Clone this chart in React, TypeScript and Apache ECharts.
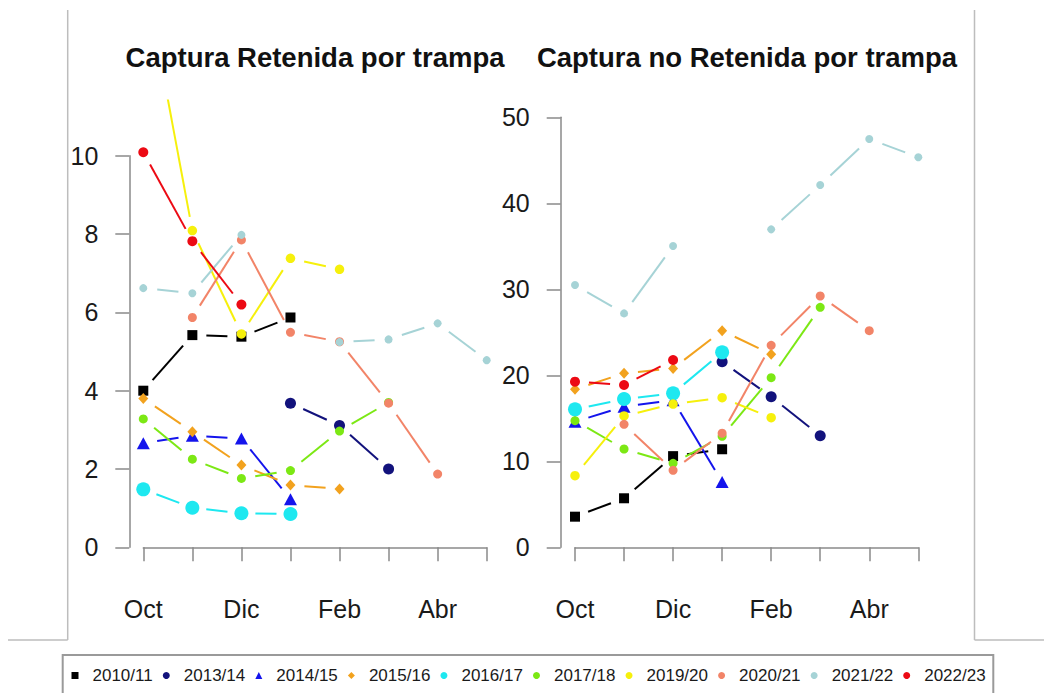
import React, { useEffect, useRef } from "react";
import * as echarts from "echarts";

const N = null;

// Categories (months of the season) and tick labels
const months = ["Oct", "Nov", "Dic", "Ene", "Feb", "Mar", "Abr", "May"];
const seasons = ["2010/11", "2013/14", "2014/15", "2015/16", "2016/17", "2017/18", "2019/20", "2020/21", "2021/22", "2022/23"];
const panelTitles = ["Captura Retenida por trampa", "Captura no Retenida por trampa"];
const leftTicks = { min: 0, max: 10, interval: 2 };
const rightTicks = { min: 0, max: 50, interval: 10 };

// Captura Retenida por trampa
const ret_2010_11 = [4.0, 5.42, 5.38, 5.87, N, N, N, N];
const ret_2013_14 = [N, N, N, 3.68, 3.11, 2.0, N, N];
const ret_2014_15 = [2.66, 2.85, 2.78, 1.23, N, N, N, N];
const ret_2015_16 = [3.8, 2.95, 2.1, 1.59, 1.49, N, N, N];
const ret_2016_17 = [1.48, 1.01, 0.87, 0.85, N, N, N, N];
const ret_2017_18 = [3.28, 2.25, 1.76, 1.96, 2.97, 3.7, N, N];
const ret_2019_20 = [14.8, 8.09, 5.45, 7.38, 7.1, N, N, N];
const ret_2020_21 = [N, 5.87, 7.85, 5.49, 5.25, 3.68, 1.87, N];
const ret_2021_22 = [6.62, 6.49, 7.98, N, 5.24, 5.31, 5.72, 4.78];
const ret_2022_23 = [10.09, 7.82, 6.2, N, N, N, N, N];

// Captura no Retenida por trampa
const noret_2010_11 = [3.56, 5.7, 10.6, 11.4, N, N, N, N];
const noret_2013_14 = [N, N, N, 21.58, 17.5, 12.98, N, N];
const noret_2014_15 = [14.6, 16.35, 17.1, 7.6, N, N, N, N];
const noret_2015_16 = [18.37, 20.23, 20.8, 25.19, 22.45, N, N, N];
const noret_2016_17 = [16.04, 17.24, 17.9, 22.67, N, N, N, N];
const noret_2017_18 = [14.72, 11.43, 9.76, 12.9, 19.72, 27.9, N, N];
const noret_2019_20 = [8.33, 15.27, 16.66, 17.4, 15.07, N, N, N];
const noret_2020_21 = [N, 14.3, 8.95, 13.26, 23.49, 29.22, 25.19, N];
const noret_2021_22 = [30.5, 27.2, 35.03, N, 36.97, 42.13, 47.48, 45.35];
const noret_2022_23 = [19.26, 18.87, 21.78, N, N, N, N, N];

const retenida = [ret_2010_11, ret_2013_14, ret_2014_15, ret_2015_16, ret_2016_17, ret_2017_18, ret_2019_20, ret_2020_21, ret_2021_22, ret_2022_23];
const noRetenida = [noret_2010_11, noret_2013_14, noret_2014_15, noret_2015_16, noret_2016_17, noret_2017_18, noret_2019_20, noret_2020_21, noret_2021_22, noret_2022_23];

// Styles
const seasonStyle = [
  { color: "#000000", symbol: "rect", size: 10, icon: "rect" },
  { color: "#12127c", symbol: "circle", size: 11, icon: "circle" },
  { color: "#1414ec", symbol: "triangle", size: [13, 12], icon: "triangle" },
  { color: "#f2a21e", symbol: "diamond", size: [10, 11], icon: "diamond" },
  { color: "#1ee8f0", symbol: "circle", size: 14, icon: "circle" },
  { color: "#7ce814", symbol: "circle", size: 9, icon: "circle" },
  { color: "#f6f00c", symbol: "circle", size: 9.5, icon: "circle" },
  { color: "#f28468", symbol: "circle", size: 9, icon: "circle" },
  { color: "#a6d3d6", symbol: "circle", size: 8, icon: "circle" },
  { color: "#ec0a14", symbol: "circle", size: 10, icon: "circle" },
];

const FONT = "'Liberation Sans', Arial, Helvetica, sans-serif";
const AXIS_COLOR = "#8a8a8a";
const TEXT_COLOR = "#1a1a1a";
const GAP = 14;

function segments(vals: (number | null)[]) {
  const out: number[][] = [];
  for (let i = 0; i < vals.length - 1; i++) {
    const a = vals[i];
    const b = vals[i + 1];
    if (a != null && b != null) out.push([i, a, i + 1, b]);
  }
  return out;
}

function points(vals: (number | null)[]) {
  const out: number[][] = [];
  vals.forEach((v, i) => {
    if (v != null) out.push([i, v]);
  });
  return out;
}

function panelSeries(panel: (number | null)[][], axisIndex: number) {
  const out: any[] = [];
  panel.forEach((vals, i) => {
    const st = seasonStyle[i];
    out.push({
      type: "scatter",
      name: seasons[i],
      xAxisIndex: axisIndex,
      yAxisIndex: axisIndex,
      clip: true,
      silent: true,
      z: 2,
      data: points(vals),
      symbol: st.symbol,
      symbolSize: st.size,
      itemStyle: { color: st.color, borderWidth: 0, opacity: 1 },
      emphasis: { disabled: true },
    });
    out.push({
      type: "custom",
      name: seasons[i],
      xAxisIndex: axisIndex,
      yAxisIndex: axisIndex,
      clip: true,
      silent: true,
      z: 2,
      itemStyle: { color: st.color },
      encode: { x: [0, 2], y: [1, 3] },
      data: segments(vals),
      renderItem: (params: any, api: any) => {
        const a = api.coord([api.value(0), api.value(1)]);
        const b = api.coord([api.value(2), api.value(3)]);
        const dx = b[0] - a[0];
        const dy = b[1] - a[1];
        const len = Math.sqrt(dx * dx + dy * dy);
        if (len <= 2 * GAP) return null;
        const ux = dx / len;
        const uy = dy / len;
        return {
          type: "line",
          shape: { x1: a[0] + ux * GAP, y1: a[1] + uy * GAP, x2: b[0] - ux * GAP, y2: b[1] - uy * GAP },
          style: { stroke: st.color, lineWidth: 2, fill: null },
        };
      },
    });
  });
  return out;
}

const L_ZERO = 547.3;
const L_PPU = 39.15;
const R_PPU = 8.6;
const PLOT_TOP = 99.4;
const PLOT_BOTTOM = 565;

export default function App() {
  const ref = useRef<HTMLDivElement>(null);
  useEffect(() => {
    if (!ref.current) return;
    const chart = echarts.init(ref.current, null, { renderer: "svg" });

    const dataX = (grid: number) => ({
      type: "category",
      data: months,
      boundaryGap: false,
      gridIndex: grid,
      axisLine: { show: true, lineStyle: { color: AXIS_COLOR, width: 1.5 } },
      axisTick: { show: true, interval: 0, length: 14, lineStyle: { color: AXIS_COLOR, width: 1.5 } },
      axisLabel: { interval: 1, margin: 31, fontSize: 25, fontFamily: FONT, color: TEXT_COLOR },
      splitLine: { show: false },
    });

    const tickY = (grid: number, t: { min: number; max: number; interval: number }) => ({
      type: "value",
      gridIndex: grid,
      min: t.min,
      max: t.max,
      interval: t.interval,
      axisLine: { show: true, lineStyle: { color: AXIS_COLOR, width: 1.5 } },
      axisTick: { show: true, length: 14, lineStyle: { color: AXIS_COLOR, width: 1.5 } },
      axisLabel: { margin: 31, fontSize: 25, fontFamily: FONT, color: TEXT_COLOR },
      splitLine: { show: false },
    });

    const leftMin = (L_ZERO - PLOT_BOTTOM) / L_PPU;
    const leftMax = (L_ZERO - PLOT_TOP) / L_PPU;
    const rightMin = (L_ZERO - PLOT_BOTTOM) / R_PPU;
    const rightMax = (L_ZERO - PLOT_TOP) / R_PPU;

    const option: any = {
      animation: false,
      backgroundColor: "#ffffff",
      grid: [
        { left: 143.3, top: PLOT_TOP, width: 343.4, height: PLOT_BOTTOM - PLOT_TOP },
        { left: 129.3, top: L_ZERO - 10 * L_PPU, width: 1, height: 10 * L_PPU },
        { left: 575, top: PLOT_TOP, width: 343.3, height: PLOT_BOTTOM - PLOT_TOP },
        { left: 560.7, top: L_ZERO - 50 * R_PPU, width: 1, height: 50 * R_PPU },
      ],
      xAxis: [
        dataX(0),
        { type: "value", gridIndex: 1, show: false },
        dataX(2),
        { type: "value", gridIndex: 3, show: false },
      ],
      yAxis: [
        { type: "value", gridIndex: 0, min: leftMin, max: leftMax, show: false },
        tickY(1, leftTicks),
        { type: "value", gridIndex: 2, min: rightMin, max: rightMax, show: false },
        tickY(3, rightTicks),
      ],
      legend: {
        left: 71.5,
        top: 667,
        padding: 0,
        orient: "horizontal",
        itemWidth: 7,
        itemHeight: 7,
        itemGap: 10.1,
        selectedMode: false,
        textStyle: { fontSize: 17, fontFamily: FONT, color: TEXT_COLOR, padding: [0, 0, 0, 9] },
        data: seasons.map((s, i) => ({ name: s, icon: seasonStyle[i].icon, itemStyle: { color: seasonStyle[i].color } })),
      },
      graphic: [
        { type: "line", shape: { x1: 67.7, y1: 10, x2: 67.7, y2: 640 }, style: { stroke: "#bdbdbd", lineWidth: 1.5 }, silent: true },
        { type: "line", shape: { x1: 8, y1: 640, x2: 67.7, y2: 640 }, style: { stroke: "#bdbdbd", lineWidth: 1.5 }, silent: true },
        { type: "line", shape: { x1: 974.5, y1: 10, x2: 974.5, y2: 640 }, style: { stroke: "#bdbdbd", lineWidth: 1.5 }, silent: true },
        { type: "line", shape: { x1: 974.5, y1: 640, x2: 1044, y2: 640 }, style: { stroke: "#bdbdbd", lineWidth: 1.5 }, silent: true },
        { type: "rect", shape: { x: 62.7, y: 655, width: 930.6, height: 60 }, style: { stroke: "#9a9a9a", lineWidth: 2, fill: null }, silent: true },
        {
          type: "text",
          x: 315,
          y: 57,
          silent: true,
          style: { text: panelTitles[0], align: "center", verticalAlign: "middle", textAlign: "center", textVerticalAlign: "middle", fontSize: 27.5, fontWeight: "bold", fontFamily: FONT, fill: "#111111" },
        },
        {
          type: "text",
          x: 747,
          y: 57,
          silent: true,
          style: { text: panelTitles[1], align: "center", verticalAlign: "middle", textAlign: "center", textVerticalAlign: "middle", fontSize: 27.5, fontWeight: "bold", fontFamily: FONT, fill: "#111111" },
        },
      ],
      series: [...panelSeries(retenida, 0), ...panelSeries(noRetenida, 2)],
    };

    chart.setOption(option);
    return () => chart.dispose();
  }, []);

  return <div ref={ref} style={{ position: "fixed", left: 0, top: 0, width: 1044, height: 693, background: "#fff" }} />;
}
